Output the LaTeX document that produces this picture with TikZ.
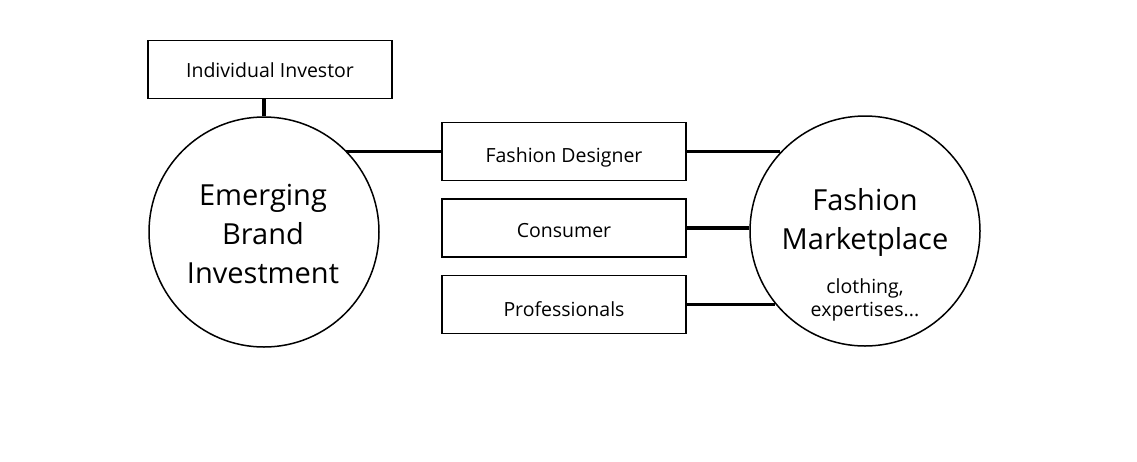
\documentclass[tikz,border=0pt]{standalone}
\usepackage{fontspec}
\setmainfont{Open Sans}
\usepackage{tikz}

\tikzset{
  entity/.style={draw, line width=1.5pt, minimum width=244pt, minimum height=58pt, inner sep=0pt, text height=20pt, text depth=0pt, font=\fontsize{19.5}{23}\selectfont},
  hub/.style={draw, circle, line width=1.5pt, minimum size=230pt, inner sep=0pt},
  hubtitle/.style={align=center, font=\fontsize{29}{39}\selectfont},
  hubnote/.style={align=center, font=\fontsize{19.5}{23}\selectfont},
  link/.style={line width=3.2pt}
}

\begin{document}
\begin{tikzpicture}[x=1pt,y=-1pt]
\useasboundingbox (0,0) rectangle (1137,461);

% left side
\node [entity, text height=15pt] (investor) at (270,69.5) {Individual Investor};
\node [hub] (emerging) at (264,232) {};
\node [hubtitle] (emergingtext) at (263,234) {Emerging\\Brand\\Investment};

% middle boxes
\node [entity, text height=22pt] (designer) at (564,151.5) {Fashion Designer};
\node [entity, text height=19pt] (consumer) at (564,228) {Consumer};
\node [entity, text height=23pt] (professionals) at (564,304.5) {Professionals};

% right side
\node [hub] (marketplace) at (865,231) {};
\node [hubtitle] (markettext) at (865,222) {Fashion\\Marketplace};
\node [hubnote] (marketnote) at (865,300) {clothing,\\expertises...};

% connectors
\draw [link] (emerging.north) -- (emerging.north |- investor.south);
\draw [link] (designer.west) -- (designer.west -| emerging.45);
\draw [link] (designer.east) -- (designer.east -| marketplace.137);
\draw [link] (consumer.east) -- (consumer.east -| marketplace.178);
\draw [link] (professionals.east) -- (professionals.east -| marketplace.219);

\end{tikzpicture}
\end{document}
